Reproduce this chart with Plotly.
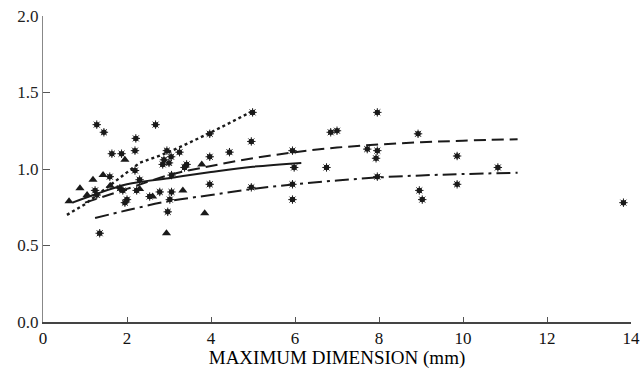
import plotly.graph_objects as go

# ---- data ----
dot_x = [1.28, 1.45, 2.68, 2.21, 1.64, 1.87, 2.19, 3.97, 4.99, 4.96, 4.44, 3.97, 3.25, 2.88, 2.95,
         3.00, 3.05, 2.85, 3.42, 2.19, 1.59, 5.94, 5.98, 6.85, 7.00, 6.75, 7.96, 8.93, 7.72, 7.96,
         7.93, 9.86, 10.83, 7.96, 4.96, 5.94, 9.86, 8.96, 9.03, 5.94, 13.82, 3.06, 3.97, 2.78,
         3.06, 3.02, 2.97, 1.35, 1.24, 1.28, 1.83, 1.90, 2.00, 1.95, 2.23, 2.54, 2.30, 3.37]
dot_y = [1.29, 1.24, 1.29, 1.20, 1.10, 1.10, 1.12, 1.23, 1.37, 1.18, 1.11, 1.08, 1.11, 1.06, 1.12,
         1.04, 1.08, 1.03, 1.03, 0.99, 0.95, 1.12, 1.01, 1.24, 1.25, 1.01, 1.37, 1.23, 1.13, 1.12,
         1.07, 1.085, 1.01, 0.95, 0.88, 0.90, 0.90, 0.86, 0.80, 0.80, 0.78, 0.96, 0.90, 0.85,
         0.85, 0.80, 0.72, 0.58, 0.86, 0.83, 0.875, 0.86, 0.80, 0.78, 0.86, 0.82, 0.93, 1.01]

tri_x = [0.62, 0.88, 1.19, 1.43, 1.95, 3.33, 2.61, 3.85, 2.94, 3.78, 1.05, 2.30, 1.60]
tri_y = [0.79, 0.875, 0.93, 0.96, 1.06, 0.86, 0.82, 0.71, 0.58, 1.03, 0.83, 0.87, 0.89]

dotted_x = [0.57, 1.0, 2.3, 3.0, 3.97, 5.04]
dotted_y = [0.70, 0.77, 1.04, 1.11, 1.235, 1.385]

solid_x = [0.7, 1.2, 2.0, 3.0, 4.0, 5.0, 6.15]
solid_y = [0.78, 0.83, 0.90, 0.94, 0.98, 1.015, 1.04]

longdash_x = [1.0, 2.0, 3.0, 4.0, 5.0, 6.0, 7.0, 8.0, 9.0, 10.0, 11.3]
longdash_y = [0.78, 0.87, 0.96, 1.02, 1.07, 1.11, 1.14, 1.16, 1.175, 1.185, 1.195]

dashdot_x = [1.24, 2.0, 3.0, 4.0, 5.0, 6.0, 7.0, 8.0, 9.0, 10.0, 11.3]
dashdot_y = [0.68, 0.73, 0.79, 0.83, 0.87, 0.90, 0.925, 0.945, 0.958, 0.967, 0.975]

x_ticks = [0, 2, 4, 6, 8, 10, 12, 14]
y_ticks = [0.0, 0.5, 1.0, 1.5, 2.0]
y_ticklabels = ["0.0", "0.5", "1.0", "1.5", "2.0"]

ink = "#1a1a1a"
font = "Times New Roman, Liberation Serif, DejaVu Serif, serif"

fig = go.Figure()
fig.add_trace(go.Scatter(x=dotted_x, y=dotted_y, mode="lines",
                         line=dict(color=ink, width=2.4, dash="3px,3px")))
fig.add_trace(go.Scatter(x=solid_x, y=solid_y, mode="lines",
                         line=dict(color=ink, width=2, shape="spline")))
fig.add_trace(go.Scatter(x=longdash_x, y=longdash_y, mode="lines",
                         line=dict(color=ink, width=2, dash="12px,6px", shape="spline")))
fig.add_trace(go.Scatter(x=dashdot_x, y=dashdot_y, mode="lines",
                         line=dict(color=ink, width=2, dash="14px,5px,3px,5px", shape="spline")))
fig.add_trace(go.Scatter(x=dot_x, y=dot_y, mode="markers",
                         marker=dict(symbol="circle", size=5.5, color=ink)))
fig.add_trace(go.Scatter(x=dot_x, y=dot_y, mode="markers",
                         marker=dict(symbol="asterisk-open", size=7, color=ink,
                                     line=dict(color=ink, width=1))))
fig.add_trace(go.Scatter(x=tri_x, y=tri_y, mode="markers",
                         marker=dict(symbol="triangle-up", size=8, color=ink)))

fig.update_layout(
    width=641, height=369,
    margin=dict(l=43, r=10, t=16, b=47),
    paper_bgcolor="white", plot_bgcolor="white",
    showlegend=False,
    font=dict(family=font, color="#111", size=16),
)
fig.update_xaxes(range=[0, 14], tickvals=x_ticks, ticks="inside", ticklen=5,
                 tickcolor="#555", showline=True, linecolor="#444", linewidth=1.5,
                 showgrid=False, zeroline=False, automargin=False,
                 tickfont=dict(size=17, family=font, color="#111"),
                 title=dict(text="MAXIMUM DIMENSION (mm)", standoff=0,
                            font=dict(size=19, family=font, color="#000")))
fig.update_yaxes(range=[0, 2], tickvals=y_ticks, ticktext=y_ticklabels, ticks="inside",
                 ticklen=7, tickcolor="#555", showline=True, linecolor="#888", linewidth=1,
                 showgrid=False, zeroline=False, automargin=False,
                 tickfont=dict(size=17, family=font, color="#222"))

fig.write_html("out.html")
